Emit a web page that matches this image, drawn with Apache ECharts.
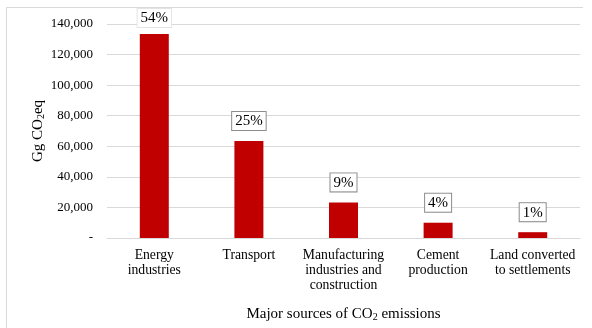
<!DOCTYPE html>
<html>
<head>
<meta charset="utf-8">
<script src="https://cdn.jsdelivr.net/npm/echarts@6/dist/echarts.min.js"></script>
<style>
  html, body { margin: 0; padding: 0; background: #fff; }
  #chart { width: 592px; height: 328px; }
</style>
</head>
<body>
<div id="chart"></div>
<script>
// Emission sources and their totals (Gg CO2eq)
var categories = ['Energy\nindustries', 'Transport', 'Manufacturing\nindustries and\nconstruction', 'Cement\nproduction', 'Land converted\nto settlements'];
var emissions = [133500, 63500, 23300, 10000, 3800];
var shares = ['54%', '25%', '9%', '4%', '1%'];

var serif = '"Liberation Serif", "Times New Roman", serif';

var chart = echarts.init(document.getElementById('chart'), null, { renderer: 'canvas' });

var barData = emissions.map(function (v, i) {
  var item = { value: v, share: shares[i] };
  if (i === 0) {
    item.label = { borderColor: '#e4e4e4', distance: 7 };
  }
  return item;
});

var subStyle = { fontFamily: serif, fontSize: 10, color: '#000', verticalAlign: 'bottom', padding: [6, 0, 0, 0] };

chart.setOption({
  animation: false,
  backgroundColor: '#fff',
  graphic: [{
    type: 'polyline',
    z: -10,
    silent: true,
    shape: { points: [[6.5, 328], [6.5, 7.5], [583, 7.5]] },
    style: { stroke: '#d9d9d9', lineWidth: 1, fill: null }
  }],
  grid: { left: 107, right: 12, top: 24, bottom: 90, outerBoundsMode: 'none', containLabel: false },
  xAxis: {
    type: 'category',
    data: categories,
    name: 'Major sources of CO{sub|2} emissions',
    nameLocation: 'middle',
    nameGap: 68,
    nameMoveOverlap: false,
    nameTextStyle: { fontFamily: serif, fontSize: 15, color: '#000', rich: { sub: subStyle } },
    axisLine: { show: true, lineStyle: { color: '#d9d9d9' } },
    axisTick: { show: false },
    axisLabel: { fontFamily: serif, fontSize: 13.7, color: '#000', lineHeight: 15, margin: 10, interval: 0 }
  },
  yAxis: {
    type: 'value',
    min: 0,
    max: 140000,
    interval: 20000,
    name: 'Gg CO{sub|2}eq',
    nameLocation: 'middle',
    nameGap: 61,
    nameMoveOverlap: false,
    nameTextStyle: { fontFamily: serif, fontSize: 15, color: '#000', rich: { sub: subStyle } },
    axisLine: { show: false },
    axisTick: { show: false },
    splitLine: { lineStyle: { color: '#d9d9d9' } },
    axisLabel: {
      fontFamily: serif, fontSize: 13, color: '#000', margin: 14,
      formatter: function (v) { return v === 0 ? '-' : v.toLocaleString('en-US'); }
    }
  },
  series: [{
    type: 'bar',
    data: barData,
    barWidth: 29,
    itemStyle: { color: '#c00000' },
    label: {
      show: true,
      position: 'top',
      distance: 11,
      formatter: function (p) { return p.data.share; },
      fontFamily: serif,
      fontSize: 15,
      color: '#000',
      backgroundColor: '#fff',
      borderColor: '#8c8c8c',
      borderWidth: 1,
      padding: [2, 3, 1, 3]
    }
  }]
});
</script>
</body>
</html>
